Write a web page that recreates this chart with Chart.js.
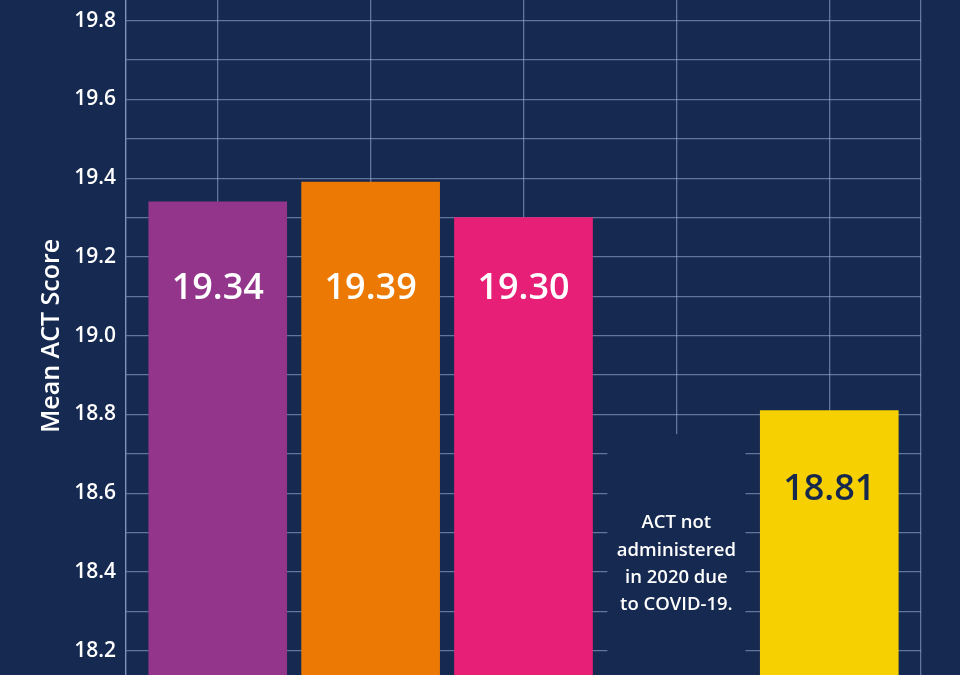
<!DOCTYPE html>
<html>
<head>
<meta charset="utf-8">
<script src="https://cdn.jsdelivr.net/npm/chart.js@4"></script>
<style>
  html, body { margin: 0; padding: 0; width: 960px; height: 675px; overflow: hidden; background: #162950; }
  #wrap { position: absolute; left: 0; top: -100px; width: 960px; height: 900px; }
</style>
</head>
<body>
<div id="wrap"><canvas id="act-chart"></canvas></div>
<script>
// Mean ACT score by year (2020 not administered)
const years = ['2017', '2018', '2019', '2020', '2021'];
const meanScores = [19.34, 19.39, 19.30, null, 18.81];
const barColors = ['#93358b', '#ec7903', '#e81f76', '#162950', '#f6d000'];
const valueColors = ['#ffffff', '#ffffff', '#ffffff', '#ffffff', '#17284d'];
const yMin = 18.0;
const yMax = 20.0;
const noteLines = ['ACT not', 'administered', 'in 2020 due', 'to COVID-19.'];

const BG = '#162950';
const GRID = 'rgba(150, 168, 208, 0.6)';
const FONT = "'Open Sans', sans-serif";

// covers the grid behind the 2020 note and writes values on bars
const barText = {
  id: 'barText',
  beforeDatasetsDraw(chart) {
    const { ctx, scales: { x, y }, chartArea } = chart;
    const i = meanScores.indexOf(null);
    const cx = x.getPixelForValue(i);
    const top = y.getPixelForValue(18.75);
    ctx.save();
    ctx.fillStyle = BG;
    ctx.fillRect(cx - 69, top, 138, chartArea.bottom - top);
    ctx.restore();
  },
  afterDatasetsDraw(chart) {
    const { ctx, scales: { x, y } } = chart;
    ctx.save();
    ctx.textAlign = 'center';
    ctx.textBaseline = 'middle';
    meanScores.forEach((v, i) => {
      const cx = x.getPixelForValue(i);
      if (v === null) {
        ctx.fillStyle = '#ffffff';
        ctx.font = `600 18.5px ${FONT}`;
        const mid = y.getPixelForValue(18.42);
        const lh = 27.3;
        noteLines.forEach((t, k) => {
          ctx.fillText(t, cx, mid + (k - (noteLines.length - 1) / 2) * lh);
        });
        return;
      }
      const at = v > 19 ? 19.12 : v - 0.2;
      ctx.fillStyle = valueColors[i];
      ctx.font = `600 36px ${FONT}`;
      ctx.fillText(v.toFixed(2), cx, y.getPixelForValue(at));
    });
    ctx.restore();
  }
};

new Chart(document.getElementById('act-chart'), {
  type: 'bar',
  data: {
    datasets: [{
      data: meanScores.map((v, i) => ({ x: i, y: v })).filter(p => p.y !== null),
      backgroundColor: meanScores.map((v, i) => barColors[i]).filter((c, i) => meanScores[i] !== null),
      barThickness: 138,
      borderWidth: 0
    }]
  },
  options: {
    responsive: true,
    maintainAspectRatio: false,
    animation: false,
    layout: { padding: { top: 42, right: 39, bottom: 70.5, left: 0 } },
    plugins: {
      legend: { display: false },
      tooltip: {
        callbacks: {
          title: (items) => years[items[0].parsed.x],
          label: (item) => item.parsed.y.toFixed(2)
        }
      }
    },
    scales: {
      x: {
        type: 'linear',
        offset: false,
        min: -0.6,
        max: years.length - 0.4,
        afterBuildTicks: (scale) => {
          scale.ticks = [-0.6, ...years.map((_, i) => i), years.length - 0.4].map(v => ({ value: v }));
        },
        afterFit: (scale) => { scale.height = 0; },
        ticks: { display: false },
        grid: { color: GRID, lineWidth: 1.3, drawTicks: false, offset: false },
        border: { color: GRID, width: 1.3 }
      },
      y: {
        min: yMin,
        max: yMax,
        afterFit: (scale) => { scale.width = 126; },
        ticks: {
          stepSize: 0.1,
          color: '#ffffff',
          padding: 10,
          font: { family: FONT, size: 21, weight: '600' },
          callback: (v) => (Math.round(v * 10) % 2 === 0 && v > yMin && v < yMax) ? v.toFixed(1) : ''
        },
        grid: { color: GRID, lineWidth: 1.3, drawTicks: false },
        border: { color: GRID, width: 1.3 },
        title: {
          display: true,
          text: 'Mean ACT Score',
          color: '#ffffff',
          font: { family: FONT, size: 25, weight: '600' },
          padding: { top: 37, bottom: 0 }
        }
      }
    }
  },
  plugins: [barText]
});
</script>
</body>
</html>
